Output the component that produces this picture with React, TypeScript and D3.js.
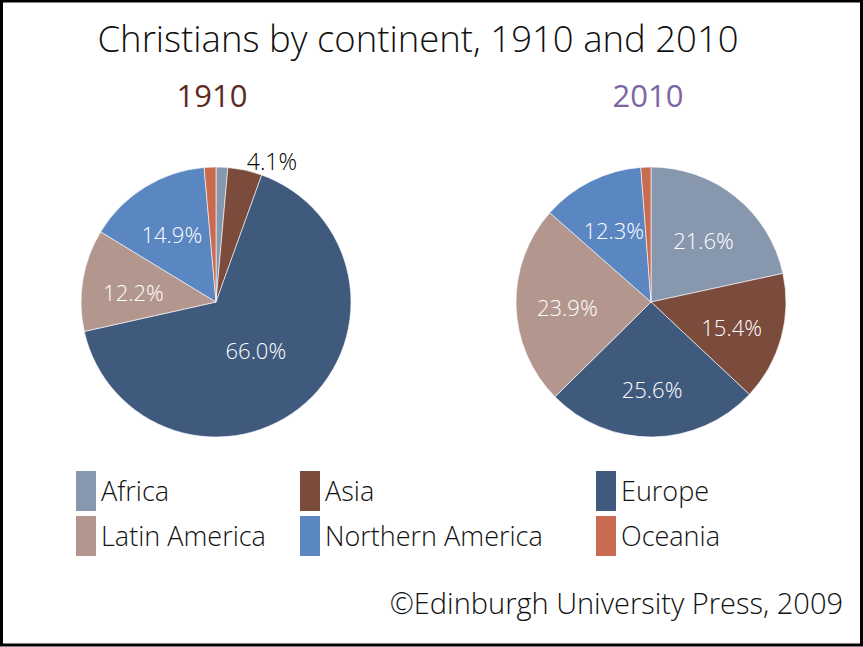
import React from 'react';
import * as d3 from 'd3';

const continents = ['Africa', 'Asia', 'Europe', 'Latin America', 'Northern America', 'Oceania'];
const colors = ['#8797ae', '#7b4b3c', '#405a7e', '#b3978f', '#5a86c2', '#c96b50'];
const share1910 = [1.4, 4.1, 66.0, 12.2, 14.9, 1.4];
const share2010 = [21.6, 15.4, 25.6, 23.9, 12.3, 1.2];
const labels1910 = ['', '4.1%', '66.0%', '12.2%', '14.9%', ''];
const labels2010 = ['21.6%', '15.4%', '25.6%', '23.9%', '12.3%', ''];

const W = 863, H = 647;
const FONT = '"Open Sans", "Noto Sans", sans-serif';

function Pie({ cx, cy, values, labels }: { cx: number; cy: number; values: number[]; labels: string[] }) {
  const r = 135;
  const arcs = d3.pie<number>().sort(null).value(d => d)(values);
  const arc = d3.arc<d3.PieArcDatum<number>>().innerRadius(0).outerRadius(r);
  const labelArc = d3.arc<d3.PieArcDatum<number>>().innerRadius(r * 0.62).outerRadius(r * 0.62);
  const outArc = d3.arc<d3.PieArcDatum<number>>().innerRadius(r * 1.06).outerRadius(r * 1.06);
  return (
    <g transform={`translate(${cx},${cy})`}>
      {arcs.map((a, i) => (
        <path key={i} d={arc(a) || ''} fill={colors[i]} stroke="#ffffff" strokeWidth={0.6} />
      ))}
      {arcs.map((a, i) => {
        if (!labels[i]) return null;
        const small = values[i] < 5;
        let [x, y] = small ? outArc.centroid(a) : labelArc.centroid(a);
        if (!small && values[i] > 50) { x *= 0.72; y *= 0.72; }
        return (
          <text key={'l' + i} x={x} y={y} dy={small ? '0.35em' : '0.55em'} textAnchor={small ? 'start' : 'middle'}
            fontFamily={FONT} fontSize={small ? 23 : 22} fontWeight={300}
            fill={small ? '#000' : '#ffffff'}>{labels[i]}</text>
        );
      })}
    </g>
  );
}

export default function App() {
  const legendCols = [76, 300, 596];
  const legendRows = [471, 516];
  return (
    <svg width={W} height={H} style={{ display: 'block', position: 'absolute', left: 0, top: 0 }}>
      <rect x={0} y={0} width={W} height={H} fill="#fff" />
      <rect x={1.5} y={1} width={W - 3} height={H - 3} fill="none" stroke="#000" strokeWidth={3} />
      <text x={418} y={52} textAnchor="middle" fontFamily={FONT} fontWeight={300} fontSize={36.5} fill="#111">
        Christians by continent, 1910 and 2010
      </text>
      <text x={212} y={107} textAnchor="middle" fontFamily={FONT} fontSize={31} fill="#5e2a20">1910</text>
      <text x={648} y={107} textAnchor="middle" fontFamily={FONT} fontSize={31} fill="#7d66a3">2010</text>
      <Pie cx={216} cy={302} values={share1910} labels={labels1910} />
      <Pie cx={651} cy={302} values={share2010} labels={labels2010} />
      {continents.map((c, i) => {
        const x = legendCols[i % 3];
        const y = legendRows[Math.floor(i / 3)];
        return (
          <g key={c}>
            <rect x={x} y={y} width={20} height={40} fill={colors[i]} />
            <text x={x + 25} y={y + 30} fontFamily={FONT} fontWeight={300} fontSize={27} fill="#111">{c}</text>
          </g>
        );
      })}
      <text x={843} y={614} textAnchor="end" fontFamily={FONT} fontWeight={300} fontSize={29} fill="#111">
        ©Edinburgh University Press, 2009
      </text>
    </svg>
  );
}
